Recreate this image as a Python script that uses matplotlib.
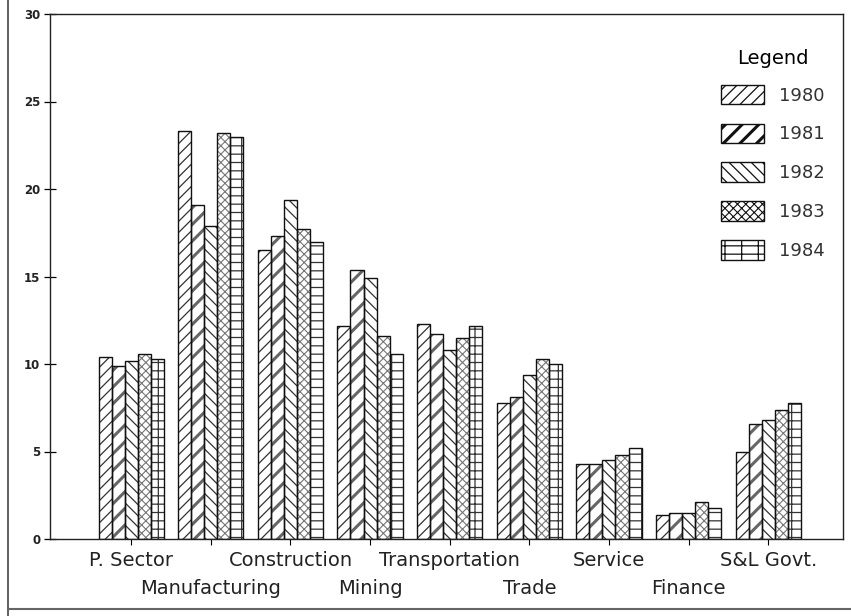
import matplotlib
matplotlib.use("Agg")
import matplotlib.pyplot as plt
from matplotlib.patches import Patch
from matplotlib.lines import Line2D
import numpy as np

categories = ["P. Sector", "Manufacturing", "Construction", "Mining", "Transportation",
              "Trade", "Service", "Finance", "S&L Govt."]
years = ["1980", "1981", "1982", "1983", "1984"]
v1980 = [10.4, 23.3, 16.5, 12.2, 12.3, 7.8, 4.3, 1.4, 5.0]
v1981 = [9.9, 19.1, 17.3, 15.4, 11.7, 8.1, 4.3, 1.5, 6.6]
v1982 = [10.2, 17.9, 19.4, 14.9, 10.8, 9.4, 4.5, 1.5, 6.8]
v1983 = [10.6, 23.2, 17.7, 11.6, 11.5, 10.3, 4.8, 2.1, 7.4]
v1984 = [10.3, 23.0, 17.0, 10.6, 12.2, 10.0, 5.2, 1.8, 7.8]
series = [v1980, v1981, v1982, v1983, v1984]
yticks = [0, 5, 10, 15, 20, 25, 30]

hatches = ["///", "//", "\\\\\\", "xxxx", "--|"]
hatch_colors = ["#333333", "#666666", "#333333", "#777777", "#333333"]
hatch_lws = [0.9, 2.2, 0.9, 0.8, 0.9]

plt.rcParams['font.family'] = ['DejaVu Sans']
fig = plt.figure(figsize=(8.51, 6.16), dpi=100)
ax = fig.add_axes([50/851, 77/616, 793/851, 525/616])

x = np.arange(len(categories))
w = 1/6.1
for k, vals in enumerate(series):
    pos = x + (k - 2) * w
    with plt.rc_context({'hatch.linewidth': hatch_lws[k]}):
        bars = ax.bar(pos, vals, width=w, color='white', edgecolor=hatch_colors[k],
                      linewidth=0, hatch=hatches[k], zorder=2)
        for b in bars:
            if hasattr(b, 'set_hatch_linewidth'):
                b.set_hatch_linewidth(hatch_lws[k])
    ax.bar(pos, vals, width=w, fill=False, edgecolor='#111111', linewidth=1.0, zorder=3)

ax.set_xlim(-1.02, 8.94)
ax.set_ylim(0, 30)
ax.set_yticks(yticks)
ax.set_yticklabels([str(t) for t in yticks], fontsize=8.5, fontweight='bold', color='#222222')
ax.tick_params(axis='y', direction='inout', length=8, width=0.9, pad=3)
ax.set_xticks(x)
ax.set_xticklabels([])
ax.tick_params(axis='x', direction='out', length=4, width=0.8)
for s in ax.spines.values():
    s.set_linewidth(1.0)
    s.set_color('#222222')

for i, name in enumerate(categories):
    off = -21 if i % 2 == 0 else -49
    ax.annotate(name, xy=(i, 0), xycoords=('data', 'axes fraction'),
                xytext=(0, off * 0.72), textcoords='offset points',
                ha='center', va='center', fontsize=14, color='#222222')

handles = []
for k in range(5):
    p = Patch(facecolor='white', edgecolor='#111111', hatch=hatches[k], linewidth=1.0)
    handles.append(p)
leg = ax.legend(handles, years, title="Legend", loc='upper left',
                bbox_to_anchor=(721/851, 1 - 49/616), bbox_transform=fig.transFigure,
                frameon=False, fontsize=13, title_fontsize=14,
                handlelength=2.4, handleheight=1.3, handletextpad=0.8,
                labelspacing=1.05, borderpad=0, borderaxespad=0)
leg._legend_box.sep = 12
for k, p in enumerate(leg.get_patches()):
    if hasattr(p, 'set_hatch_linewidth'):
        p.set_hatch_linewidth(hatch_lws[k])
for t in leg.get_texts():
    t.set_color('#333333')

# outer frame lines
fig.add_artist(Line2D([8/851, 8/851], [0, 1], transform=fig.transFigure, color='#444444', lw=1.2))
fig.add_artist(Line2D([8/851, 1], [1 - 609/616, 1 - 609/616], transform=fig.transFigure, color='#666666', lw=1.5))

fig.savefig("out.png", dpi=100)
